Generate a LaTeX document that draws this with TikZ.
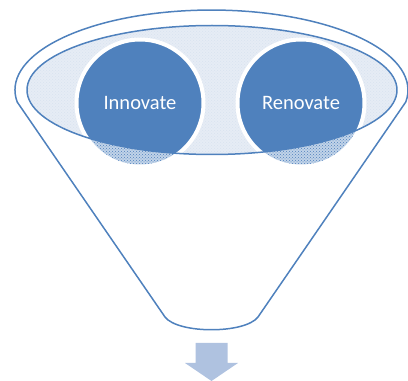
\documentclass[tikz,border=0pt]{standalone}
\usepackage{fontspec}
\setmainfont{Carlito}
\usetikzlibrary{patterns}
\definecolor{funnelblue}{HTML}{4F81BD}
\definecolor{mouthblue}{HTML}{E6ECF5}
\definecolor{arrowblue}{HTML}{AFC2E0}

\begin{document}
\begin{tikzpicture}[x=1pt,y=1pt,line join=round,
    rim/.style={draw=funnelblue,line width=1.5pt},
    word node/.style={circle,fill=funnelblue,draw=white,line width=4pt,minimum size=127pt,
      inner sep=0pt,text=white,font=\fontsize{20.5}{24}\selectfont},
    lowdots/.style={preaction={fill=funnelblue!35},pattern=crosshatch dots,pattern color=funnelblue}]
  \useasboundingbox (0,0) rectangle (408,381);

  % funnel body
  \draw[rim] (17.2,279) arc[start angle=188.6,end angle=-8.6,x radius=196.5,y radius=80]
    -- (258,64) .. controls (245,47) and (178,47) .. (165,64) -- cycle;

  \coordinate (innocentre) at (140,278);
  \coordinate (renocentre) at (301,278);

  % mouth of the funnel
  \path[fill=mouthblue,postaction={pattern=crosshatch dots,pattern color=funnelblue!22}]
    (212,291) ellipse [x radius=185,y radius=64.5];
  \fill[lowdots] (innocentre) circle (61.5);
  \fill[lowdots] (renocentre) circle (61.5);
  \begin{scope}
    \clip (212,291) ellipse [x radius=185,y radius=64.5];
    \node[word node] (innovate) at (innocentre) {Innovate};
    \node[word node] (renovate) at (renocentre) {Renovate};
  \end{scope}
  \draw[rim] (212,291) ellipse [x radius=185,y radius=64.5];

  % output arrow
  \fill[arrowblue] (195.5,38) -- (227.5,38) -- (227.5,18) -- (238,18) -- (211.5,0)
    -- (185,18) -- (195.5,18) -- cycle;
\end{tikzpicture}
\end{document}
